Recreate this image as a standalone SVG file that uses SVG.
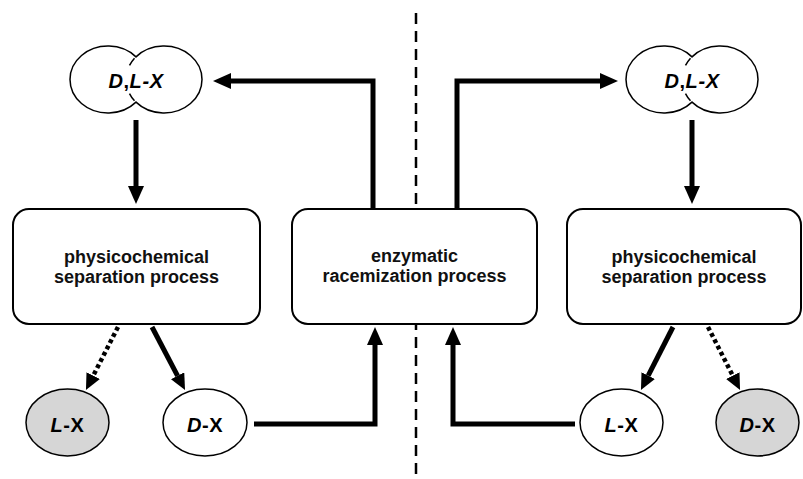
<svg xmlns="http://www.w3.org/2000/svg" width="803" height="479" viewBox="0 0 803 479">
<style>
  .box{fill:#fff;stroke:#000;stroke-width:2}
  .ell{fill:#fff;stroke:#000;stroke-width:1.5}
  .grey{fill:#d6d6d6}
  .btxt{font-family:"Liberation Sans",Arial,sans-serif;font-size:18px;font-weight:bold;fill:#111;text-anchor:middle}
  .lbl{font-family:"Liberation Sans",Arial,sans-serif;font-size:20px;font-weight:bold;fill:#000;text-anchor:middle;letter-spacing:0.6px}
  .it{font-style:italic}
  .con{fill:none;stroke:#000;stroke-width:5;stroke-linejoin:miter}
  .dot{fill:none;stroke:#000;stroke-width:4.5;stroke-dasharray:4 3}
  .sep{fill:none;stroke:#000;stroke-width:2.5;stroke-dasharray:11 7}
</style>
<defs>
  <marker id="ah" markerUnits="userSpaceOnUse" markerWidth="18" markerHeight="16" viewBox="0 0 18 16" refX="0" refY="8" orient="auto">
    <path d="M0,0 L18,8 L0,16 Z" fill="#000"/>
  </marker>
  <marker id="ahs" markerUnits="userSpaceOnUse" markerWidth="16" markerHeight="15" viewBox="0 0 16 15" refX="0" refY="7.5" orient="auto">
    <path d="M0,0 L16,7.5 L0,15 Z" fill="#000"/>
  </marker>
  <g id="dlshape">
    <path class="ell" d="M136,56.85 A38,33.5 0 1,0 136,102.15 A38,33.5 0 1,0 136,56.85 Z"/>
    <path fill="none" stroke="#000" stroke-width="1.5" d="M134.5,58.2 A38,33.5 0 0,0 129.5,65.45"/>
    <path fill="none" stroke="#000" stroke-width="1.5" d="M134.5,100.8 A38,33.5 0 0,1 129.5,93.55"/>
  </g>
</defs>
<rect width="803" height="479" fill="#fff"/>

<g id="separator">
  <line class="sep" x1="416" y1="13" x2="416" y2="477"/>
</g>

<g id="connectors">
  <path class="con" d="M373,209 V81 H231" marker-end="url(#ah)"/>
  <path class="con" d="M457,209 V81 H600" marker-end="url(#ah)"/>
  <path class="con" d="M136,120 V186" marker-end="url(#ah)"/>
  <path class="con" d="M692,120 V186" marker-end="url(#ah)"/>
  <path class="dot" d="M118,327 L93.2,375.7" marker-end="url(#ahs)"/>
  <path class="con" d="M152,327 L177.6,375.8" marker-end="url(#ahs)"/>
  <path class="con" d="M254,424 H375 V345" marker-end="url(#ah)"/>
  <path class="con" d="M575,424 H453 V345" marker-end="url(#ah)"/>
  <path class="con" d="M673,327 L648.2,375.7" marker-end="url(#ahs)"/>
  <path class="dot" d="M708,327 L732.8,375.7" marker-end="url(#ahs)"/>
</g>

<g id="dlx-left">
  <use href="#dlshape"/>
  <text class="lbl" x="136" y="88"><tspan class="it">D</tspan>,<tspan class="it">L</tspan><tspan class="it">-X</tspan></text>
</g>
<g id="dlx-right">
  <use href="#dlshape" transform="translate(556,0)"/>
  <text class="lbl" x="692" y="88"><tspan class="it">D</tspan>,<tspan class="it">L</tspan><tspan class="it">-X</tspan></text>
</g>

<g id="sep-left">
  <rect class="box" x="13" y="209" width="247" height="115" rx="16"/>
  <text class="btxt" x="136.5" y="263">physicochemical</text>
  <text class="btxt" x="136.5" y="283">separation process</text>
</g>
<g id="racemization">
  <rect class="box" x="292" y="209" width="245" height="115" rx="16"/>
  <text class="btxt" x="414.5" y="262">enzymatic</text>
  <text class="btxt" x="414.5" y="282">racemization process</text>
</g>
<g id="sep-right">
  <rect class="box" x="567" y="209" width="234" height="115" rx="16"/>
  <text class="btxt" x="684" y="263">physicochemical</text>
  <text class="btxt" x="684" y="283">separation process</text>
</g>

<g id="lx-left">
  <ellipse class="ell grey" cx="67.5" cy="422.5" rx="41.5" ry="33.5"/>
  <text class="lbl" x="67.5" y="432"><tspan class="it">L</tspan>-X</text>
</g>
<g id="dx-left">
  <ellipse class="ell" cx="205" cy="422.5" rx="42" ry="33.5"/>
  <text class="lbl" x="205" y="432"><tspan class="it">D</tspan>-X</text>
</g>
<g id="lx-right">
  <ellipse class="ell" cx="621.5" cy="422.5" rx="41.5" ry="33.5"/>
  <text class="lbl" x="621.5" y="432"><tspan class="it">L</tspan>-X</text>
</g>
<g id="dx-right">
  <ellipse class="ell grey" cx="757.5" cy="422.5" rx="41.5" ry="33.5"/>
  <text class="lbl" x="757.5" y="432"><tspan class="it">D</tspan>-X</text>
</g>
</svg>
